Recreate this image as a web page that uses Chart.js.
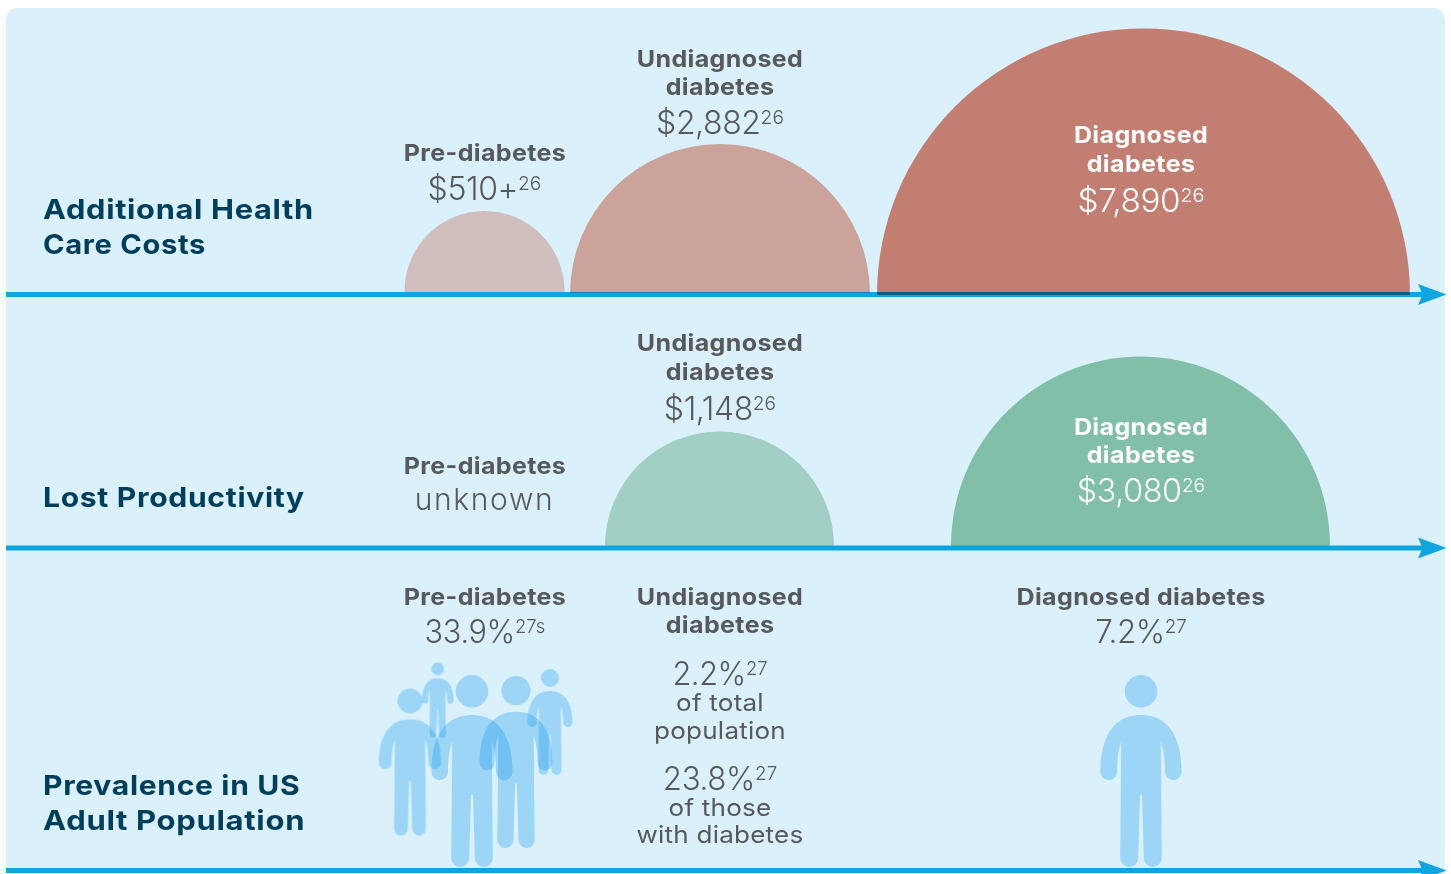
<!DOCTYPE html>
<html><head><meta charset="utf-8">
<script src="https://cdn.jsdelivr.net/npm/chart.js@4/dist/chart.umd.min.js"></script>
<style>
html,body{margin:0;padding:0;background:#fff;overflow:hidden}
#wrap{position:relative;width:1451px;height:874px;overflow:hidden}
canvas{position:absolute;left:0;top:0}
.t{position:absolute;white-space:nowrap;font-family:Inter,sans-serif;color:#58595b;line-height:1;--k:1}
.c{transform:translateX(-50%) scaleX(var(--k))}
.h{font-weight:700;font-size:27.5px;color:#003f5c;letter-spacing:.6px;transform:scaleX(var(--k));transform-origin:0 50%}
.b{font-weight:700;font-size:23.5px;letter-spacing:.35px;--k:1.065}
.v{font-weight:300;font-size:32px;letter-spacing:-.4px}
.s{font-weight:400;font-size:24px;letter-spacing:.2px;--k:1.085}
.u{font-weight:300;font-size:30px;letter-spacing:1.6px}
.w{color:#fff}
sup{font-size:.6em;line-height:0;vertical-align:baseline;position:relative;top:-.52em;letter-spacing:0}
</style></head>
<body><div id="wrap"><canvas id="c" width="1451" height="874"></canvas></div>
<script>
// ---- data ----
const categories = ['Pre-diabetes', 'Undiagnosed diabetes', 'Diagnosed diabetes'];
const healthCosts = [510, 2882, 7890];
const lostProductivity = [null, 1148, 3080];
const prevalencePct = [33.9, 2.2, 7.2];
const undiagnosedOfDiabetesPct = 23.8;

// ---- layout of marks (x scale is in page pixels, y scales count up from each row's base) ----
const healthX = [484.5, 720, 1143.5];
const healthY = [4, 1, 0];
const healthR = [80, 150, 266.5];
const healthColors = ['#d0bfbd', '#cca39b', '#c17e71'];
const lostX = [null, 719.5, 1140.5];
const lostY = [null, 0, 0];
const lostR = [null, 114.5, 189.5];
const lostColors = [null, '#a2cfc3', '#82bfa9'];
const peopleX = [410, 437.7, 472, 516, 550, 1141];
const peopleMidY = [108.5, 170.5, 99.5, 108.5, 148.5, 99.5];
const peopleH = [147, 75, 192, 172, 106, 192];
const rowHeights = [295, 251, 324.5];
const axisLineShift = [-0.5, 2, 0];

function personSprite(h) {
  const k = h / 192, cv = document.createElement('canvas');
  cv.width = Math.ceil(84 * k) + 2; cv.height = Math.ceil(h) + 2;
  const g = cv.getContext('2d');
  g.translate(cv.width / 2, 1); g.scale(k, k);
  g.fillStyle = 'rgba(15,150,235,.3)';
  g.beginPath();
  g.arc(0, 16.3, 16.3, 0, Math.PI * 2);
  g.moveTo(0, 40);
  g.bezierCurveTo(-26, 40, -40.6, 60, -40.6, 97);
  g.arc(-32.3, 97, 8.3, Math.PI, 0, true);
  g.bezierCurveTo(-24, 85, -23, 76, -19.8, 67);
  g.lineTo(-20.8, 183);
  g.arc(-11.8, 183, 9, Math.PI, 0, true);
  g.lineTo(-1, 120); g.lineTo(1, 120); g.lineTo(2.8, 183);
  g.arc(11.8, 183, 9, Math.PI, 0, true);
  g.lineTo(19.8, 67);
  g.bezierCurveTo(23, 76, 24, 85, 24, 97);
  g.arc(32.3, 97, 8.3, Math.PI, 0, true);
  g.bezierCurveTo(40.6, 60, 26, 40, 0, 40);
  g.closePath();
  g.fill();
  return cv;
}
const sprites = peopleH.map(personSprite);

function bubbles(xs, ys, rs, colors, axis) {
  const data = [], bg = [];
  xs.forEach((x, i) => { if (x !== null) { data.push({x, y: ys[i], r: rs[i]}); bg.push(colors[i]); } });
  return {type: 'bubble', label: axis, data, yAxisID: axis, backgroundColor: bg, borderWidth: 0, hoverRadius: 0, order: 2};
}

const frame = {
  id: 'frame',
  beforeDraw(chart) {
    const c = chart.ctx;
    c.save(); c.fillStyle = '#daf1fc';
    c.beginPath(); c.roundRect(6, 8, 1439, 880, 12); c.fill(); c.restore();
  },
  afterDatasetsDraw(chart) {
    const c = chart.ctx;
    ['y1', 'y2', 'y3'].forEach((id, i) => {
      const y = chart.scales[id].getPixelForValue(0) + axisLineShift[i];
      c.save(); c.fillStyle = '#0fa6e0';
      c.fillRect(6, y - 2.5, 1418, 5);
      c.beginPath();
      c.moveTo(1446.5, y); c.lineTo(1418, y - 10.5); c.lineTo(1422.5, y); c.lineTo(1418, y + 10.5);
      c.closePath(); c.fill();
      c.restore();
    });
    // the darker overlap of the costliest bubbles on the axis line
    const x = chart.scales.x, yb = chart.scales.y1.getPixelForValue(0);
    [[1, 'rgba(30,80,100,.45)', 1], [2, '#0f5f76', 3]].forEach(([i, col, h]) => {
      c.fillStyle = col;
      c.fillRect(x.getPixelForValue(healthX[i] - healthR[i]), yb - 3, healthR[i] * 2, h);
    });
  }
};

const hidden = {ticks: {display: false}, grid: {display: false}, border: {display: false}};
const yScale = (i, w) => ({type: 'linear', ...hidden, stack: 'rows', stackWeight: rowHeights[i], weight: w, min: 0, max: rowHeights[i],
  afterFit(s) { s.width = 0; }});

const chart = new Chart(document.getElementById('c'), {
  data: {datasets: [
    bubbles(healthX, healthY, healthR, healthColors, 'y1'),
    bubbles(lostX, lostY, lostR, lostColors, 'y2'),
    {type: 'scatter', label: 'People', yAxisID: 'y3', order: 1,
     data: peopleX.map((x, i) => ({x, y: peopleMidY[i]})),
     pointStyle: ctx => sprites[ctx.dataIndex], pointRadius: 10, borderWidth: 0, backgroundColor: 'transparent'}
  ]},
  plugins: [frame],
  options: {
    responsive: false, animation: false, events: [],
    layout: {autoPadding: false, padding: {left: 0, right: 0, top: 0, bottom: 3.5}},
    plugins: {legend: {display: false}, tooltip: {enabled: false}, title: {display: false}},
    scales: {
      x: {type: 'linear', ...hidden, min: 0, max: 1451, afterFit(s) { s.height = 0; }},
      y3: yScale(2, 1), y2: yScale(1, 2), y1: yScale(0, 3)
    }
  }
});

// ---- text ----
const money = n => '$' + n.toLocaleString('en-US');
const sup = s => `<sup>${s}</sup>`;
const cx = [484.5, 720, 1141];
const labels = [
  ['h', 43, 219, 'Additional Health', 1.12], ['h', 43, 254, 'Care Costs', 1.061],
  ['h', 43, 507, 'Lost Productivity', 1.095],
  ['h', 43, 795, 'Prevalence in US', 1.094], ['h', 43, 830, 'Adult Population', 1.129],
  ['b c', cx[0], 161, categories[0]], ['v c', cx[0], 199.5, money(healthCosts[0]) + '+' + sup(26)],
  ['b c', cx[1], 67, 'Undiagnosed'], ['b c', cx[1], 95, 'diabetes'], ['v c', cx[1], 134, money(healthCosts[1]) + sup(26)],
  ['b c w', cx[2], 143, 'Diagnosed'], ['b c w', cx[2], 172, 'diabetes'], ['v c w', cx[2], 212, money(healthCosts[2]) + sup(26), 1.04],
  ['b c', cx[0], 474, categories[0]], ['u c', cx[0], 510, 'unknown'],
  ['b c', cx[1], 351, 'Undiagnosed'], ['b c', cx[1], 380, 'diabetes'], ['v c', cx[1], 419.5, money(lostProductivity[1]) + sup(26)],
  ['b c w', cx[2], 435, 'Diagnosed'], ['b c w', cx[2], 463, 'diabetes'], ['v c w', cx[2], 502, money(lostProductivity[2]) + sup(26), 1.01],
  ['b c', cx[0], 605, categories[0]], ['v c', cx[0], 643, prevalencePct[0] + '%' + sup('27s'), .96],
  ['b c', cx[1], 605, 'Undiagnosed'], ['b c', cx[1], 633, 'diabetes'],
  ['v c', cx[1], 685, prevalencePct[1] + '%' + sup(27), .96],
  ['s c', cx[1], 711, 'of total'], ['s c', cx[1], 739, 'population'],
  ['v c', cx[1], 790, undiagnosedOfDiabetesPct + '%' + sup(27), .98],
  ['s c', cx[1], 816, 'of those'], ['s c', cx[1], 843, 'with diabetes'],
  ['b c', cx[2], 605, categories[2]], ['v c', cx[2], 643, prevalencePct[2] + '%' + sup(27), .98]
];
const wrap = document.getElementById('wrap');
labels.forEach(([cls, x, base, html, k]) => {
  const el = document.createElement('div');
  el.className = 't ' + cls; el.innerHTML = html;
  el.style.left = x + 'px'; el.style.top = base + 'px';
  if (k) el.style.setProperty('--k', k);
  wrap.appendChild(el);
  const probe = document.createElement('i');
  probe.style.cssText = 'display:inline-block;width:0;height:0';
  el.appendChild(probe);
  const off = probe.getBoundingClientRect().bottom - base;
  el.removeChild(probe);
  el.style.top = (base - off) + 'px';
});
</script></body></html>
